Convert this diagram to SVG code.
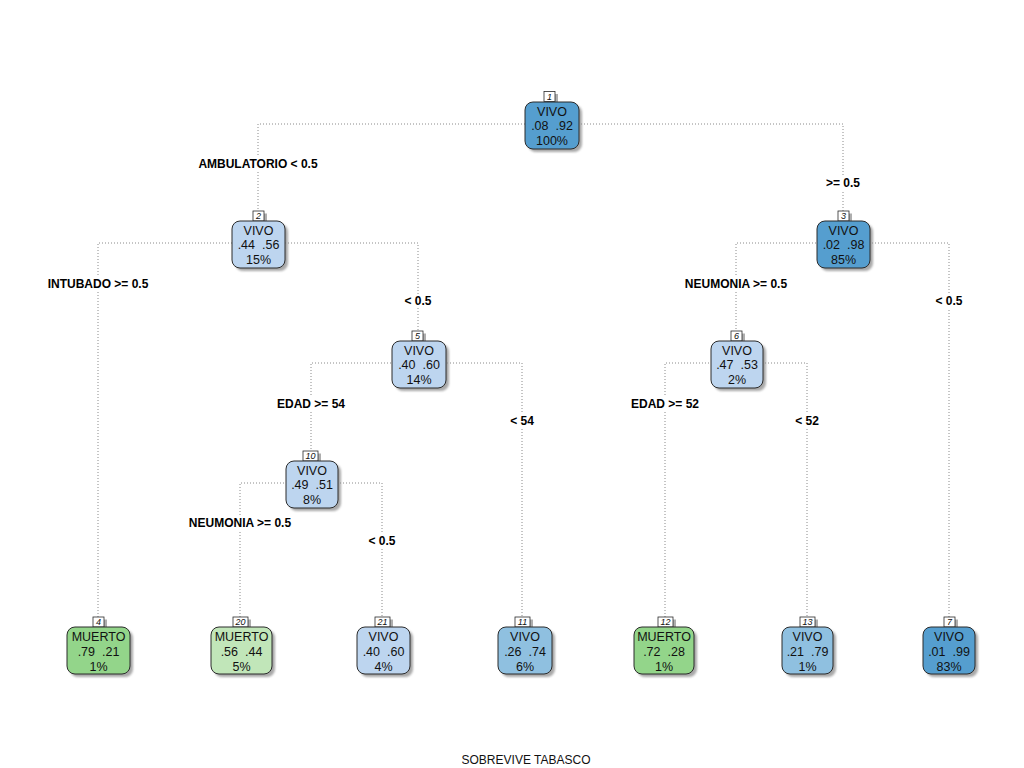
<svg xmlns="http://www.w3.org/2000/svg" width="1024" height="768" viewBox="0 0 1024 768">
<defs>
<filter id="sh" x="-20%" y="-20%" width="150%" height="150%"><feGaussianBlur stdDeviation="1.2"/></filter>
<style>
.bg{fill:#ffffff}
.con{fill:none;stroke:#8a8a8a;stroke-width:1;stroke-dasharray:1,2}
.lbg{fill:#ffffff}
.lbl{font-family:"Liberation Sans",Arial,sans-serif;font-size:12px;font-weight:bold;fill:#000;text-anchor:middle}
.shadow{fill:#8c8c8c;opacity:0.75;filter:url(#sh)}
.box{stroke:#2b2b2b;stroke-width:1}
.dark{fill:#559ecf}
.mid{fill:#8fc0e0}
.light{fill:#bdd5ef}
.green{fill:#93d58a}
.lgreen{fill:#c1e6b9}
.nt{font-family:"Liberation Sans",Arial,sans-serif;font-size:12.5px;fill:#111;text-anchor:middle;white-space:pre}
.nnbox{fill:#fff;stroke:#2b2b2b;stroke-width:0.8}
.nnsh{fill:#8c8c8c;opacity:0.7}
.nn{font-family:"Liberation Sans",Arial,sans-serif;font-size:9px;font-style:italic;fill:#111;text-anchor:middle}
.title{font-family:"Liberation Sans",Arial,sans-serif;font-size:12px;fill:#111;text-anchor:middle}
</style>
</defs>
<rect class="bg" x="0" y="0" width="1024" height="768"/>

<g id="connectors">
<path class="con" d="M258,212 V124 H843 V212"/>
<path class="con" d="M98,617 V243 H418 V332"/>
<path class="con" d="M736,332 V243 H949 V617"/>
<path class="con" d="M311,452 V363 H522 V617"/>
<path class="con" d="M665,617 V363 H807 V617"/>
<path class="con" d="M240,617 V483 H382 V617"/>
</g>

<g id="split-labels">
<rect class="lbg" x="196" y="157" width="124" height="14"/><text class="lbl" x="258" y="168">AMBULATORIO &lt; 0.5</text>
<rect class="lbg" x="822" y="176" width="42" height="14"/><text class="lbl" x="843" y="187">&gt;= 0.5</text>
<rect class="lbg" x="46" y="277" width="104" height="14"/><text class="lbl" x="98" y="288">INTUBADO &gt;= 0.5</text>
<rect class="lbg" x="401" y="294" width="34" height="14"/><text class="lbl" x="418" y="305">&lt; 0.5</text>
<rect class="lbg" x="683" y="277" width="106" height="14"/><text class="lbl" x="736" y="288">NEUMONIA &gt;= 0.5</text>
<rect class="lbg" x="932" y="294" width="34" height="14"/><text class="lbl" x="949" y="305">&lt; 0.5</text>
<rect class="lbg" x="275" y="397" width="72" height="14"/><text class="lbl" x="311" y="408">EDAD &gt;= 54</text>
<rect class="lbg" x="507" y="414" width="30" height="14"/><text class="lbl" x="522" y="425">&lt; 54</text>
<rect class="lbg" x="629" y="397" width="72" height="14"/><text class="lbl" x="665" y="408">EDAD &gt;= 52</text>
<rect class="lbg" x="792" y="414" width="30" height="14"/><text class="lbl" x="807" y="425">&lt; 52</text>
<rect class="lbg" x="187" y="516" width="106" height="14"/><text class="lbl" x="240" y="527">NEUMONIA &gt;= 0.5</text>
<rect class="lbg" x="365" y="534" width="34" height="14"/><text class="lbl" x="382" y="545">&lt; 0.5</text>
</g>

<g id="node1">
<rect class="nnsh" x="547" y="94" width="11" height="10"/><rect class="nnbox" x="544" y="91.5" width="11" height="10"/><text class="nn" x="549.5" y="99.8">1</text>
<rect class="shadow" x="528" y="105" width="54" height="47" rx="8"/>
<rect class="box dark" x="525" y="102" width="54" height="47" rx="8"/>
<text class="nt" x="552" y="115.5">VIVO</text><text class="nt" x="552" y="130">.08  .92</text><text class="nt" x="552" y="145">100%</text>
</g>

<g id="node2">
<rect class="nnsh" x="256" y="213.5" width="11" height="10"/><rect class="nnbox" x="253" y="211" width="11" height="10"/><text class="nn" x="258.5" y="219.3">2</text>
<rect class="shadow" x="235" y="224" width="53" height="47" rx="8"/>
<rect class="box light" x="232" y="221" width="53" height="47" rx="8"/>
<text class="nt" x="258.5" y="234.5">VIVO</text><text class="nt" x="258.5" y="249">.44  .56</text><text class="nt" x="258.5" y="264">15%</text>
</g>

<g id="node3">
<rect class="nnsh" x="841" y="213.5" width="11" height="10"/><rect class="nnbox" x="838" y="211" width="11" height="10"/><text class="nn" x="843.5" y="219.3">3</text>
<rect class="shadow" x="820" y="224" width="53" height="47" rx="8"/>
<rect class="box dark" x="817" y="221" width="53" height="47" rx="8"/>
<text class="nt" x="843.5" y="234.5">VIVO</text><text class="nt" x="843.5" y="249">.02  .98</text><text class="nt" x="843.5" y="264">85%</text>
</g>

<g id="node5">
<rect class="nnsh" x="415" y="333.5" width="11" height="10"/><rect class="nnbox" x="412" y="331" width="11" height="10"/><text class="nn" x="417.5" y="339.3">5</text>
<rect class="shadow" x="395" y="344" width="54" height="47" rx="8"/>
<rect class="box light" x="392" y="341" width="54" height="47" rx="8"/>
<text class="nt" x="419" y="354.5">VIVO</text><text class="nt" x="419" y="369">.40  .60</text><text class="nt" x="419" y="384">14%</text>
</g>

<g id="node6">
<rect class="nnsh" x="734" y="333.5" width="11" height="10"/><rect class="nnbox" x="731" y="331" width="11" height="10"/><text class="nn" x="736.5" y="339.3">6</text>
<rect class="shadow" x="714" y="344" width="52" height="47" rx="8"/>
<rect class="box light" x="711" y="341" width="52" height="47" rx="8"/>
<text class="nt" x="737" y="354.5">VIVO</text><text class="nt" x="737" y="369">.47  .53</text><text class="nt" x="737" y="384">2%</text>
</g>

<g id="node10">
<rect class="nnsh" x="306" y="453.5" width="15" height="10"/><rect class="nnbox" x="303" y="451" width="15" height="10"/><text class="nn" x="310.5" y="459.3">10</text>
<rect class="shadow" x="289" y="464" width="52" height="47" rx="8"/>
<rect class="box light" x="286" y="461" width="52" height="47" rx="8"/>
<text class="nt" x="312" y="474.5">VIVO</text><text class="nt" x="312" y="489">.49  .51</text><text class="nt" x="312" y="504">8%</text>
</g>

<g id="node4">
<rect class="nnsh" x="96" y="619.5" width="11" height="10"/><rect class="nnbox" x="93" y="617" width="11" height="10"/><text class="nn" x="98.5" y="625.3">4</text>
<rect class="shadow" x="70" y="630" width="63" height="47" rx="8"/>
<rect class="box green" x="67" y="627" width="63" height="47" rx="8"/>
<text class="nt" x="98.5" y="641">MUERTO</text><text class="nt" x="98.5" y="655.5">.79  .21</text><text class="nt" x="98.5" y="670.5">1%</text>
</g>

<g id="node20">
<rect class="nnsh" x="236" y="619.5" width="15" height="10"/><rect class="nnbox" x="233" y="617" width="15" height="10"/><text class="nn" x="240.5" y="625.3">20</text>
<rect class="shadow" x="214" y="630" width="61" height="47" rx="8"/>
<rect class="box lgreen" x="211" y="627" width="61" height="47" rx="8"/>
<text class="nt" x="241.5" y="641">MUERTO</text><text class="nt" x="241.5" y="655.5">.56  .44</text><text class="nt" x="241.5" y="670.5">5%</text>
</g>

<g id="node21">
<rect class="nnsh" x="378" y="619.5" width="15" height="10"/><rect class="nnbox" x="375" y="617" width="15" height="10"/><text class="nn" x="382.5" y="625.3">21</text>
<rect class="shadow" x="360" y="630" width="53" height="47" rx="8"/>
<rect class="box light" x="357" y="627" width="53" height="47" rx="8"/>
<text class="nt" x="383.5" y="641">VIVO</text><text class="nt" x="383.5" y="655.5">.40  .60</text><text class="nt" x="383.5" y="670.5">4%</text>
</g>

<g id="node11">
<rect class="nnsh" x="518" y="619.5" width="15" height="10"/><rect class="nnbox" x="515" y="617" width="15" height="10"/><text class="nn" x="522.5" y="625.3">11</text>
<rect class="shadow" x="501" y="630" width="54" height="47" rx="8"/>
<rect class="box mid" x="498" y="627" width="54" height="47" rx="8"/>
<text class="nt" x="525" y="641">VIVO</text><text class="nt" x="525" y="655.5">.26  .74</text><text class="nt" x="525" y="670.5">6%</text>
</g>

<g id="node12">
<rect class="nnsh" x="661" y="619.5" width="15" height="10"/><rect class="nnbox" x="658" y="617" width="15" height="10"/><text class="nn" x="665.5" y="625.3">12</text>
<rect class="shadow" x="637" y="630" width="60" height="47" rx="8"/>
<rect class="box green" x="634" y="627" width="60" height="47" rx="8"/>
<text class="nt" x="664" y="641">MUERTO</text><text class="nt" x="664" y="655.5">.72  .28</text><text class="nt" x="664" y="670.5">1%</text>
</g>

<g id="node13">
<rect class="nnsh" x="803" y="619.5" width="15" height="10"/><rect class="nnbox" x="800" y="617" width="15" height="10"/><text class="nn" x="807.5" y="625.3">13</text>
<rect class="shadow" x="785" y="630" width="51" height="47" rx="8"/>
<rect class="box mid" x="782" y="627" width="51" height="47" rx="8"/>
<text class="nt" x="807.5" y="641">VIVO</text><text class="nt" x="807.5" y="655.5">.21  .79</text><text class="nt" x="807.5" y="670.5">1%</text>
</g>

<g id="node7">
<rect class="nnsh" x="947" y="619.5" width="11" height="10"/><rect class="nnbox" x="944" y="617" width="11" height="10"/><text class="nn" x="949.5" y="625.3">7</text>
<rect class="shadow" x="926" y="630" width="52" height="47" rx="8"/>
<rect class="box dark" x="923" y="627" width="52" height="47" rx="8"/>
<text class="nt" x="949" y="641">VIVO</text><text class="nt" x="949" y="655.5">.01  .99</text><text class="nt" x="949" y="670.5">83%</text>
</g>

<text class="title" x="526" y="764">SOBREVIVE TABASCO</text>
</svg>
